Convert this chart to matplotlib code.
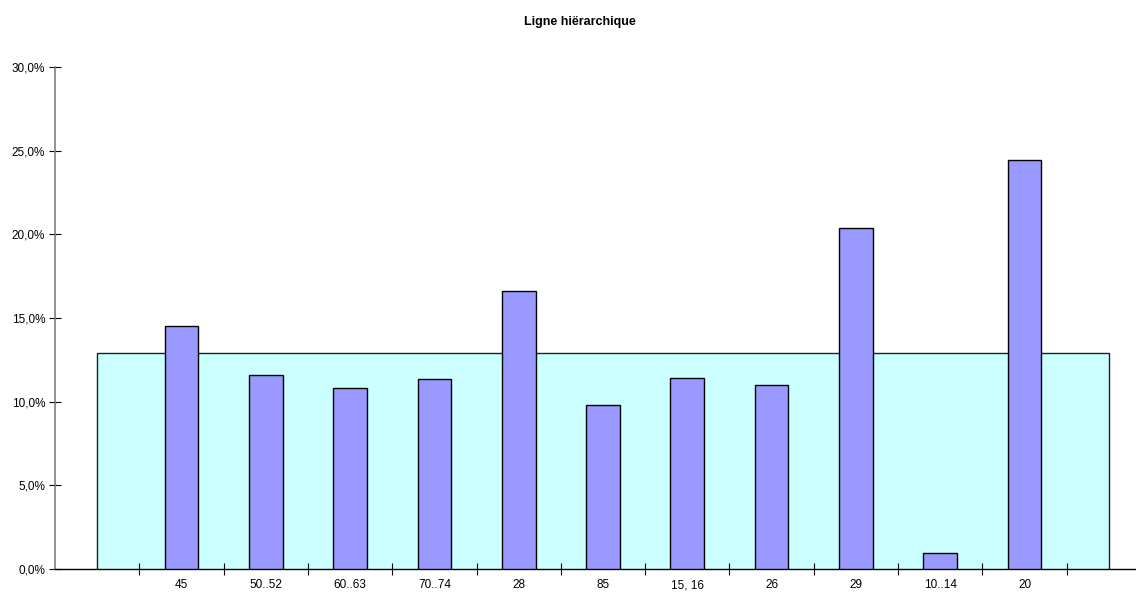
import matplotlib.pyplot as plt

plt.rcParams['font.family'] = ['Liberation Sans', 'DejaVu Sans']

categories = ['', '45', '50..52', '60..63', '70..74', '28', '85', '15, 16', '26', '29', '10..14', '20', '']
values = [None, 14.5, 11.6, 10.8, 11.35, 16.6, 9.8, 11.4, 11.0, 20.4, 0.95, 24.45, None]
average = 12.9

fig = plt.figure(figsize=(11.36, 5.92), dpi=100)
ax = fig.add_axes([55 / 1136, 1 - 569 / 592, 1096 / 1136, 502 / 592])

x = list(range(len(categories)))
# fond: moyenne en aire
ax.fill_between([x[0], x[-1]], [average, average], 0, color='#CCFFFF', zorder=1)
ax.plot([x[0], x[0], x[-1], x[-1]], [0, average, average, 0], color='#202020', lw=1, zorder=2)

bx = [i for i, v in zip(x, values) if v is not None]
bv = [v for v in values if v is not None]
ax.bar(bx, bv, width=0.4, color='#9999FF', edgecolor='black', linewidth=1, zorder=3)

ax.set_xlim(-0.5, len(categories) - 0.5)
ax.set_ylim(0, 30)
ax.set_yticks([0, 5, 10, 15, 20, 25, 30])
ax.set_yticklabels([f'{t:.1f}%'.replace('.', ',') for t in [0, 5, 10, 15, 20, 25, 30]])
ax.set_xticks([i + 0.5 for i in range(len(categories) - 1)], minor=False)
ax.set_xticklabels([])
ax.set_xticks(x, minor=True)
ax.set_xticklabels(categories, minor=True)
ax.tick_params(axis='x', which='major', direction='inout', length=8, width=0.8)
ax.tick_params(axis='x', which='minor', length=0, pad=7.5, labelsize=8.5)
ax.tick_params(axis='y', direction='inout', length=8, width=0.8, labelsize=8.5, pad=3)

ax.spines['top'].set_visible(False)
ax.spines['right'].set_visible(False)
ax.spines['left'].set_color('#808080')
ax.spines['left'].set_linewidth(1.2)
ax.spines['bottom'].set_linewidth(1)

fig.text(580 / 1136, 1 - 22 / 592, 'Ligne hiërarchique', ha='center', va='center',
         fontsize=9, fontweight='bold')

fig.savefig('out.png', dpi=100)
